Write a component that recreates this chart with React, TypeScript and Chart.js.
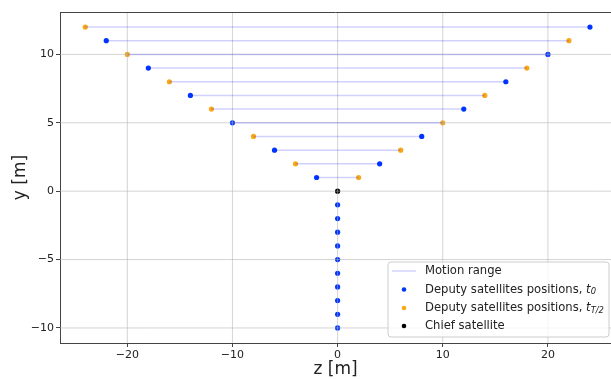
import React, { useEffect, useRef } from "react";
import { Chart, registerables } from "chart.js";

Chart.register(...registerables);

// ---- data ----
const xTicks = [-20, -10, 0, 10, 20];
const yTicks = [-10, -5, 0, 5, 10];

// Deputy satellites positions at t0
const blueZ = [-2, 4, -6, 8, -10, 12, -14, 16, -18, 20, -22, 24, 0, 0, 0, 0, 0, 0, 0, 0, 0, 0];
const blueY = [1, 2, 3, 4, 5, 6, 7, 8, 9, 10, 11, 12, -1, -2, -3, -4, -5, -6, -7, -8, -9, -10];

// Deputy satellites positions at t_{T/2}
const orangeZ = [2, -4, 6, -8, 10, -12, 14, -16, 18, -20, 22, -24];
const orangeY = [1, 2, 3, 4, 5, 6, 7, 8, 9, 10, 11, 12];

// Chief satellite
const chiefZ = [0];
const chiefY = [0];

// Motion range segments
const rangeY = [1, 2, 3, 4, 5, 6, 7, 8, 9, 10, 11, 12];
const rangeLeft = [-2, -4, -6, -8, -10, -12, -14, -16, -18, -20, -22, -24];
const rangeRight = [2, 4, 6, 8, 10, 12, 14, 16, 18, 20, 22, 24];

const FONT = "DejaVu Sans";
const BLUE = "#0036ff";
const ORANGE = "#f9a81a";
const RANGE = "rgba(0,0,255,0.18)";
const GRID = "rgba(176,176,176,0.55)";
const SPINE = "#444";

const fmt = (v: number) => (v < 0 ? "\u2212" + Math.abs(v) : String(v));

const gridOverlay = {
  id: "gridOverlay",
  afterDatasetDraw(chart: any, args: any) {
    if (args.index !== 3) return;
    const { ctx, chartArea: a, scales } = chart;
    ctx.save();
    ctx.beginPath();
    ctx.rect(a.left, a.top, a.right - a.left, a.bottom - a.top);
    ctx.clip();
    ctx.strokeStyle = GRID;
    ctx.lineWidth = 1;
    for (const v of xTicks) {
      const px = scales.x.getPixelForValue(v);
      ctx.beginPath();
      ctx.moveTo(px, a.top);
      ctx.lineTo(px, a.bottom);
      ctx.stroke();
    }
    for (const v of yTicks) {
      const py = scales.y.getPixelForValue(v);
      ctx.beginPath();
      ctx.moveTo(a.left, py);
      ctx.lineTo(a.right, py);
      ctx.stroke();
    }
    ctx.restore();
  },
};

const legendPlugin = {
  id: "customLegend",
  afterDraw(chart: any) {
    const { ctx, chartArea: a } = chart;
    ctx.save();
    // top spine
    ctx.strokeStyle = SPINE;
    ctx.lineWidth = 1;
    ctx.beginPath();
    ctx.moveTo(a.left, a.top + 0.5);
    ctx.lineTo(a.right, a.top + 0.5);
    ctx.stroke();

    const bx = 388, by = 262, bw = 221, bh = 75, r = 3;
    ctx.beginPath();
    ctx.moveTo(bx + r, by);
    ctx.lineTo(bx + bw - r, by);
    ctx.arcTo(bx + bw, by, bx + bw, by + r, r);
    ctx.lineTo(bx + bw, by + bh - r);
    ctx.arcTo(bx + bw, by + bh, bx + bw - r, by + bh, r);
    ctx.lineTo(bx + r, by + bh);
    ctx.arcTo(bx, by + bh, bx, by + bh - r, r);
    ctx.lineTo(bx, by + r);
    ctx.arcTo(bx, by, bx + r, by, r);
    ctx.closePath();
    ctx.fillStyle = "rgba(255,255,255,0.8)";
    ctx.fill();
    ctx.strokeStyle = "#cccccc";
    ctx.stroke();

    const tx = 425;
    const fs = 11.6;
    ctx.textBaseline = "middle";
    ctx.textAlign = "left";
    ctx.fillStyle = "#222";

    const y1 = 271;
    ctx.strokeStyle = RANGE;
    ctx.lineWidth = 1.5;
    ctx.beginPath();
    ctx.moveTo(392, y1);
    ctx.lineTo(416, y1);
    ctx.stroke();
    ctx.font = `${fs}px "${FONT}"`;
    ctx.fillText("Motion range", tx, y1);

    const dot = (x: number, y: number, c: string) => {
      ctx.fillStyle = c;
      ctx.beginPath();
      ctx.arc(x, y, 2.3, 0, Math.PI * 2);
      ctx.fill();
    };

    const rowSub = (y: number, sub: string) => {
      ctx.fillStyle = "#222";
      ctx.font = `${fs}px "${FONT}"`;
      const base = "Deputy satellites positions, ";
      ctx.fillText(base, tx, y);
      let x = tx + ctx.measureText(base).width;
      ctx.font = `italic ${fs}px "${FONT}"`;
      ctx.fillText("t", x, y);
      x += ctx.measureText("t").width;
      ctx.font = `italic ${fs * 0.72}px "${FONT}"`;
      ctx.fillText(sub, x, y + 2.5);
    };

    const y2 = 289.5;
    dot(404, y2, BLUE);
    rowSub(y2, "0");

    const y3 = 308;
    dot(404, y3, ORANGE);
    rowSub(y3, "T/2");

    const y4 = 326;
    dot(404, y4, "#000");
    ctx.fillStyle = "#222";
    ctx.font = `${fs}px "${FONT}"`;
    ctx.fillText("Chief satellite", tx, y4);

    ctx.restore();
  },
};

export default function App() {
  const ref = useRef<HTMLCanvasElement | null>(null);

  useEffect(() => {
    if (!ref.current) return;
    const rangeData: any[] = [];
    rangeY.forEach((y, i) => {
      rangeData.push({ x: rangeLeft[i], y });
      rangeData.push({ x: rangeRight[i], y });
      rangeData.push({ x: rangeRight[i], y: null });
    });

    const chart = new Chart(ref.current, {
      type: "scatter",
      data: {
        datasets: [
          {
            type: "line",
            label: "Motion range",
            data: rangeData,
            borderColor: RANGE,
            borderWidth: 1.5,
            pointRadius: 0,
            showLine: true,
            spanGaps: false,
            fill: false,
            order: 0,
          } as any,
          {
            label: "Deputy satellites positions, t0",
            data: blueZ.map((x, i) => ({ x, y: blueY[i] })),
            backgroundColor: BLUE,
            borderWidth: 0,
            pointRadius: 2.6,
            order: 3,
          },
          {
            label: "Deputy satellites positions, tT/2",
            data: orangeZ.map((x, i) => ({ x, y: orangeY[i] })),
            backgroundColor: ORANGE,
            borderWidth: 0,
            pointRadius: 2.6,
            order: 2,
          },
          {
            label: "Chief satellite",
            data: chiefZ.map((x, i) => ({ x, y: chiefY[i] })),
            backgroundColor: "#000",
            borderWidth: 0,
            pointRadius: 2.6,
            order: 1,
          },
        ],
      },
      options: {
        responsive: false,
        animation: false,
        devicePixelRatio: 1,
        layout: { autoPadding: false, padding: { top: 12, right: 0, left: 0, bottom: 0 } },
        plugins: {
          legend: { display: false },
          tooltip: { enabled: false },
        },
        scales: {
          x: {
            type: "linear",
            min: -26.4,
            max: 26.0,
            afterBuildTicks: (s: any) => {
              s.ticks = xTicks.map((v) => ({ value: v }));
            },
            afterFit: (s: any) => {
              s.height = 36;
              s.paddingLeft = 0;
              s.paddingRight = 0;
            },
            border: { display: true, color: SPINE, width: 1 },
            grid: { drawOnChartArea: false, drawTicks: true, tickLength: 4, tickColor: SPINE },
            ticks: {
              font: { family: FONT, size: 11 },
              color: "#222",
              padding: 2,
              maxRotation: 0,
              callback: (v: any) => fmt(Number(v)),
            },
            title: {
              display: true,
              text: "z [m]",
              font: { family: FONT, size: 17, lineHeight: 1.1 },
              color: "#222",
              padding: { top: 0, bottom: 0 },
            },
          },
          y: {
            type: "linear",
            min: -11.1,
            max: 13.1,
            afterBuildTicks: (s: any) => {
              s.ticks = yTicks.map((v) => ({ value: v }));
            },
            afterFit: (s: any) => {
              s.width = 60;
              s.paddingTop = 0;
              s.paddingBottom = 0;
            },
            border: { display: true, color: SPINE, width: 1 },
            grid: { drawOnChartArea: false, drawTicks: true, tickLength: 4, tickColor: SPINE },
            ticks: {
              font: { family: FONT, size: 11 },
              color: "#222",
              padding: 2,
              callback: (v: any) => fmt(Number(v)),
            },
            title: {
              display: true,
              text: "y [m]",
              font: { family: FONT, size: 17, lineHeight: 1.1 },
              color: "#222",
              padding: { top: 11, bottom: 0 },
            },
          },
        },
      },
      plugins: [gridOverlay, legendPlugin],
    });
    return () => chart.destroy();
  }, []);

  return (
    <div style={{ position: "absolute", left: 0, top: 0, width: 611, height: 379, background: "#fff" }}>
      <canvas ref={ref} width={611} height={379} />
    </div>
  );
}
